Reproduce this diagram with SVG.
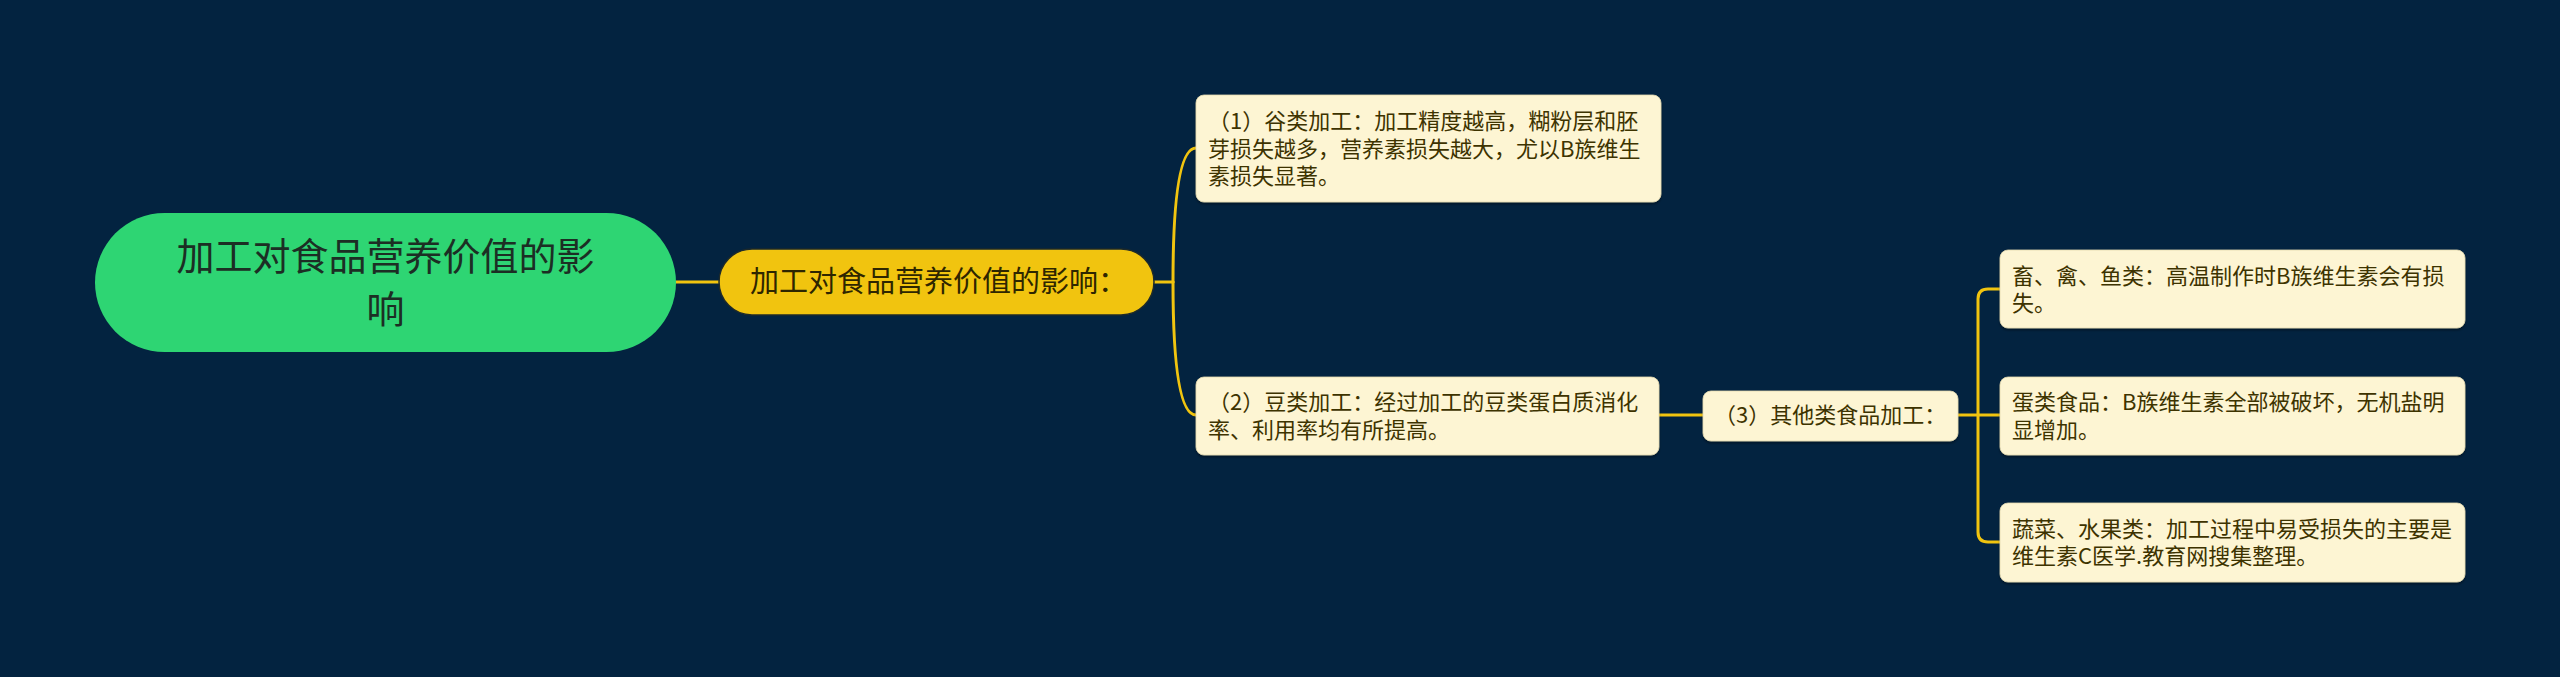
<svg xmlns="http://www.w3.org/2000/svg" width="2560" height="677" viewBox="0 0 2560 677">
<style>
.cjk{font-family:"Noto Sans CJK SC","Noto Sans",sans-serif}
.box{fill:#FDF5D3;stroke:#E3D9B0;stroke-width:0.8}
.t{font-size:22px;fill:#3D3300}
.link{fill:none;stroke:#F1C40F;stroke-width:3;stroke-linecap:round}
</style>
<defs>
<filter id="sh" x="-5%" y="-10%" width="110%" height="125%">
<feDropShadow dx="0" dy="2" stdDeviation="1" flood-color="#000" flood-opacity="0.35"/>
</filter>
</defs>
<rect width="2560" height="677" fill="#032340"/>
<g id="connectors">
<path class="link" d="M676,282 H719"/>
<path class="link" d="M1154,282 H1173"/>
<path class="link" d="M1173,282 Q1173,148 1196,148"/>
<path class="link" d="M1173,282 Q1173,415 1196,415"/>
<path class="link" d="M1659,415 H1703"/>
<path class="link" d="M1958,415 H2000"/>
<path class="link" d="M2000,289 H1988 Q1978,289 1978,299 V532 Q1978,542 1988,542 H2000"/>
</g>
<g id="root">
<rect x="95" y="213" width="581" height="139" rx="69.5" fill="#2ED573"/>
<text class="cjk" x="385.5" y="270" font-size="38" fill="#1C2E24" text-anchor="middle">加工对食品营养价值的影</text>
<text class="cjk" x="385.5" y="323" font-size="38" fill="#1C2E24" text-anchor="middle">响</text>
</g>
<g id="branch">
<rect x="719" y="249" width="435" height="66" rx="33" fill="#F1C40F" stroke="#1E2A2A" stroke-width="1.5"/>
<text class="cjk" x="750" y="292" font-size="29" fill="#2E2600">加工对食品营养价值的影响：</text>
</g>
<g id="child1">
<rect class="box" x="1196" y="95" width="465" height="107" rx="8" filter="url(#sh)"/>
<text class="cjk t" x="1208" y="129">（1）谷类加工：加工精度越高，糊粉层和胚</text>
<text class="cjk t" x="1208" y="156.5">芽损失越多，营养素损失越大，尤以B族维生</text>
<text class="cjk t" x="1208" y="184">素损失显著。</text>
</g>
<g id="child2">
<rect class="box" x="1196" y="377" width="463" height="78" rx="8" filter="url(#sh)"/>
<text class="cjk t" x="1208" y="410">（2）豆类加工：经过加工的豆类蛋白质消化</text>
<text class="cjk t" x="1208" y="437.5">率、利用率均有所提高。</text>
</g>
<g id="child3">
<rect class="box" x="1703" y="391" width="255" height="50" rx="8" filter="url(#sh)"/>
<text class="cjk t" x="1714" y="423">（3）其他类食品加工：</text>
</g>
<g id="leaf1">
<rect class="box" x="2000" y="250" width="465" height="78" rx="8" filter="url(#sh)"/>
<text class="cjk t" x="2012" y="283.5">畜、禽、鱼类：高温制作时B族维生素会有损</text>
<text class="cjk t" x="2012" y="311">失。</text>
</g>
<g id="leaf2">
<rect class="box" x="2000" y="377" width="465" height="78" rx="8" filter="url(#sh)"/>
<text class="cjk t" x="2012" y="410">蛋类食品：B族维生素全部被破坏，无机盐明</text>
<text class="cjk t" x="2012" y="437.5">显增加。</text>
</g>
<g id="leaf3">
<rect class="box" x="2000" y="503" width="465" height="79" rx="8" filter="url(#sh)"/>
<text class="cjk t" x="2012" y="536.5">蔬菜、水果类：加工过程中易受损失的主要是</text>
<text class="cjk t" x="2012" y="564">维生素C医学.教育网搜集整理。</text>
</g>
</svg>
